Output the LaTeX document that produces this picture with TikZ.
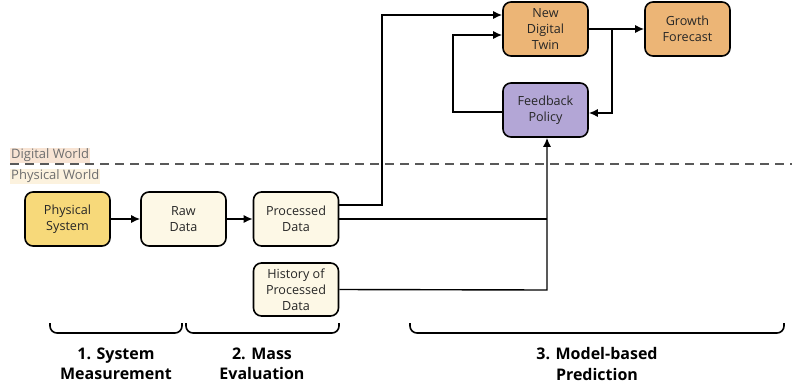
\documentclass[tikz,border=0pt]{standalone}
\usepackage{fontspec}
\setmainfont{Open Sans}
\usetikzlibrary{arrows.meta,positioning}
\definecolor{sysyellow}{HTML}{F7D97A}
\definecolor{datacream}{HTML}{FDF8E6}
\definecolor{twinorange}{HTML}{ECB576}
\definecolor{policypurple}{HTML}{B3A6D6}
\definecolor{digitalbg}{HTML}{F8E4D4}
\definecolor{physicalbg}{HTML}{FCF2DE}
\definecolor{worldtext}{HTML}{6E6E6E}
\tikzset{
  blk/.style={draw=black, line width=1.6pt, rounded corners=8pt,
    minimum width=85pt, minimum height=54pt, align=center,
    font=\fontsize{12.6}{16}\selectfont, text=black!85, inner sep=2pt},
  conn/.style={line width=1.4pt},
  arr/.style={conn, -{Latex[length=9pt,width=8pt]}},
  phase/.style={font=\fontsize{16}{20.5}\selectfont\bfseries, align=center},
  worldlbl/.style={font=\fontsize{13}{15}\selectfont, text=worldtext,
    inner sep=1pt, anchor=west},
  bracket/.style={line width=1.6pt, rounded corners=7pt}
}
\begin{document}
\begin{tikzpicture}[x=1pt,y=-1pt]
  \useasboundingbox (0,0) rectangle (792,391);

  % world separator
  \draw[dashed, dash pattern=on 9pt off 6pt, line width=1.4pt, color=black!65]
    (10,164) -- (792,164);
  \node[worldlbl, fill=digitalbg] (dw) at (10,155) {Digital World};
  \node[worldlbl, fill=physicalbg] (pw) at (10,176) {Physical World};

  % blocks
  \node[blk, fill=sysyellow] (ps) at (67.5,219) {Physical\\System};
  \node[blk, fill=datacream] (rd) at (183.5,219) {Raw\\Data};
  \node[blk, fill=datacream] (pd) at (296,219) {Processed\\Data};
  \node[blk, fill=datacream, minimum height=53pt] (hd) at (296,289.5) {History of\\Processed\\Data};
  \node[blk, fill=twinorange] (tw) at (545.5,29) {New\\Digital\\Twin};
  \node[blk, fill=twinorange] (gf) at (687.5,29) {Growth\\Forecast};
  \node[blk, fill=policypurple] (fp) at (545.5,110) {Feedback\\Policy};

  % measurement chain
  \draw[arr] (ps.east) -- (rd.west);
  \draw[arr] (rd.east) -- (pd.west);

  % processed data up to the twin
  \draw[arr] (pd.east |- 0,205) -- (382,205) -- (382,15) -- (tw.west |- 0,15);

  % feedback loop into the twin
  \draw[arr] (fp.west |- 0,112) -- (453,112) -- (453,35) -- (tw.west |- 0,35);

  % twin to forecast and back to policy
  \draw[arr] (tw.east) -- (gf.west);
  \draw[arr] (612,29) -- (612,113) -- (fp.east |- 0,113);

  % data into the policy
  \draw[conn] (pd.east) -- (547,219);
  \draw[arr] (hd.east) -- (547,290) -- (547,0 |- fp.south);

  % phase brackets
  \draw[bracket] (50,323) -- (50,333) -- (182,333) -- (182,323);
  \draw[bracket] (186,323) -- (186,333) -- (339,333) -- (339,323);
  \draw[bracket] (410,323) -- (410,333) -- (784,333) -- (784,323);

  \node[phase] (p1) at (116,364) {1. System\\Measurement};
  \node[phase] (p2) at (262,364) {2. Mass\\Evaluation};
  \node[phase] (p3) at (597,364) {3. Model-based\\Prediction};
\end{tikzpicture}
\end{document}
